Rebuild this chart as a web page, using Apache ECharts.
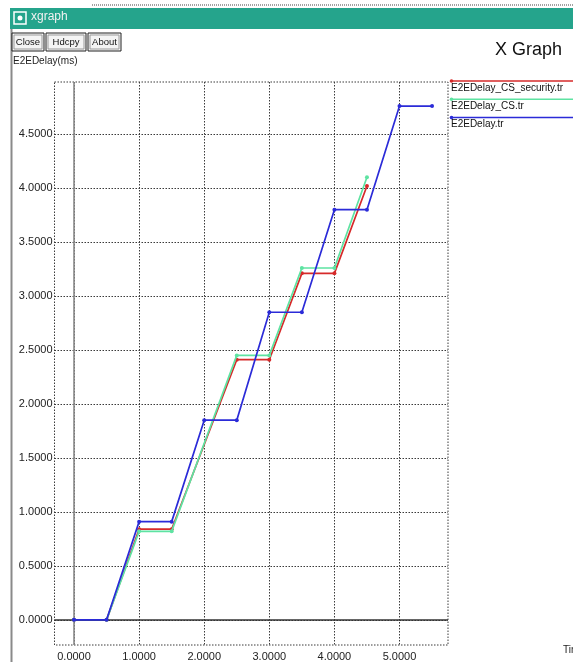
<!DOCTYPE html>
<html>
<head>
<meta charset="utf-8">
<script src="https://cdn.jsdelivr.net/npm/echarts@6/dist/echarts.min.js"></script>
<style>
  html, body { margin: 0; padding: 0; background: #ffffff; }
  #chart { width: 573px; height: 662px; }
</style>
</head>
<body>
<div id="chart"></div>
<script>
// Trace files and their colours
const seriesNames = ['E2EDelay_CS_security.tr', 'E2EDelay_CS.tr', 'E2EDelay.tr'];
const seriesColors = ['#d62a2a', '#5ee3a2', '#2b2bd8'];

// End-to-end delay (ms) against time
const securityTimes = [0, 0.5, 1.0, 1.5, 2.5, 3.0, 3.5, 4.0, 4.5];
const securityDelay = [0, 0, 0.84, 0.84, 2.41, 2.41, 3.21, 3.21, 4.02];

const csTimes = [0, 0.5, 1.0, 1.5, 2.5, 3.0, 3.5, 4.0, 4.5];
const csDelay = [0, 0, 0.82, 0.82, 2.45, 2.45, 3.26, 3.26, 4.10];

const baseTimes = [0, 0.5, 1.0, 1.5, 2.0, 2.5, 3.0, 3.5, 4.0, 4.5, 5.0, 5.5];
const baseDelay = [0, 0, 0.91, 0.91, 1.85, 1.85, 2.85, 2.85, 3.80, 3.80, 4.76, 4.76];

// Tick positions
const xTicks = [0, 1, 2, 3, 4, 5];
const yTicks = [0, 0.5, 1.0, 1.5, 2.0, 2.5, 3.0, 3.5, 4.0, 4.5];

const FONT = '"Liberation Sans", Arial, sans-serif';

function pairs(xs, ys) {
  return xs.map((x, i) => [x, ys[i]]);
}

const traceData = [
  pairs(securityTimes, securityDelay),
  pairs(csTimes, csDelay),
  pairs(baseTimes, baseDelay)
];

const chart = echarts.init(document.getElementById('chart'), null, { renderer: 'canvas' });

// Window chrome: title bar, buttons, frame
const buttons = [
  { text: 'Close', x: 12, w: 32 },
  { text: 'Hdcpy', x: 46, w: 40 },
  { text: 'About', x: 88, w: 33 }
];

const graphics = [
  { type: 'line', shape: { x1: 92, y1: 5, x2: 573, y2: 5 },
    style: { stroke: '#444', lineWidth: 1, lineDash: [1, 1] }, silent: true },
  { type: 'rect', shape: { x: 10, y: 8, width: 563, height: 21 },
    style: { fill: '#25a48c' }, silent: true },
  { type: 'rect', shape: { x: 14, y: 12, width: 12, height: 12 },
    style: { fill: '#25a48c', stroke: '#ffffff', lineWidth: 1.5 }, silent: true },
  { type: 'circle', shape: { cx: 20, cy: 18, r: 2.5 },
    style: { fill: '#ffffff' }, silent: true },
  { type: 'text', left: 31, top: 11,
    style: { text: 'xgraph', fill: '#f2f2f2', font: '12px ' + FONT }, silent: true },
  { type: 'line', shape: { x1: 11.5, y1: 29, x2: 11.5, y2: 662 },
    style: { stroke: '#8a8a8a', lineWidth: 2 }, silent: true },
  { type: 'text', left: 13, top: 56,
    style: { text: 'E2EDelay(ms)', fill: '#222', font: '10px ' + FONT }, silent: true },
  { type: 'text', left: 563, top: 645,
    style: { text: 'Time', fill: '#222', font: '10px ' + FONT }, silent: true }
];

buttons.forEach(b => {
  graphics.push({ type: 'rect', shape: { x: b.x, y: 33, width: b.w, height: 18 },
    style: { fill: '#f4f4f4', stroke: '#222', lineWidth: 1 }, silent: true });
  graphics.push({ type: 'rect', shape: { x: b.x + 2, y: 35, width: b.w - 4, height: 14 },
    style: { fill: 'none', stroke: '#9a9a9a', lineWidth: 1 }, silent: true });
  graphics.push({ type: 'text', x: b.x + b.w / 2, y: 42,
    style: { text: b.text, fill: '#111', font: '9.5px ' + FONT, align: 'center', verticalAlign: 'middle' },
    silent: true });
});

// Key to the traces: coloured line with the file name underneath
seriesNames.forEach((name, i) => {
  const ly = 81 + i * 18.3;
  graphics.push({ type: 'line', shape: { x1: 451, y1: ly, x2: 573, y2: ly },
    style: { stroke: seriesColors[i], lineWidth: 1.5 }, silent: true });
  graphics.push({ type: 'circle', shape: { cx: 451.5, cy: ly, r: 1.8 },
    style: { fill: seriesColors[i] }, silent: true });
  graphics.push({ type: 'text', left: 451, top: ly + 2,
    style: { text: name, fill: '#111', font: '10px ' + FONT }, silent: true });
});

const gridLine = { show: true, lineStyle: { color: '#3a3a3a', width: 1, type: [1.5, 1.5] } };

const series = traceData.map((data, i) => ({
  name: seriesNames[i],
  type: 'line',
  data: data,
  z: 3 + i,
  showAllSymbol: true,
  symbol: 'circle',
  symbolSize: 4,
  lineStyle: { color: seriesColors[i], width: 1.7 },
  itemStyle: { color: seriesColors[i] },
  animation: false
}));

// Zero lines sit under the traces
series.unshift({
  type: 'line',
  data: [],
  z: 2,
  silent: true,
  animation: false,
  markLine: {
    silent: true,
    symbol: 'none',
    animation: false,
    label: { show: false },
    data: [
      { yAxis: 0, lineStyle: { color: '#333', width: 1.6, type: 'solid' } },
      { xAxis: 0, lineStyle: { color: '#8a8a8a', width: 1.6, type: 'solid' } }
    ]
  }
});

chart.setOption({
  backgroundColor: '#ffffff',
  animation: false,
  title: {
    text: 'X Graph',
    left: 490,
    top: 36,
    textStyle: { fontFamily: FONT, fontSize: 18, fontWeight: 'normal', color: '#111' }
  },
  grid: {
    left: 54.5,
    right: 125,
    top: 82,
    bottom: 14,
    show: true,
    backgroundColor: '#ffffff',
    borderColor: '#3a3a3a',
    borderWidth: 1,
    borderType: [1.5, 1.5]
  },
  xAxis: {
    type: 'value',
    min: -0.30,
    max: 5.745,
    axisLine: { show: false },
    axisTick: { show: false, customValues: xTicks },
    axisLabel: {
      customValues: xTicks,
      margin: 6,
      color: '#222',
      fontFamily: FONT,
      fontSize: 11,
      formatter: v => v.toFixed(4)
    },
    splitLine: gridLine
  },
  yAxis: {
    type: 'value',
    min: -0.233,
    max: 4.983,
    axisLine: { show: false },
    axisTick: { show: false, customValues: yTicks },
    axisLabel: {
      customValues: yTicks,
      margin: 2,
      color: '#222',
      fontFamily: FONT,
      fontSize: 11,
      formatter: v => v.toFixed(4)
    },
    splitLine: gridLine
  },
  graphic: graphics,
  series: series
});
</script>
</body>
</html>
